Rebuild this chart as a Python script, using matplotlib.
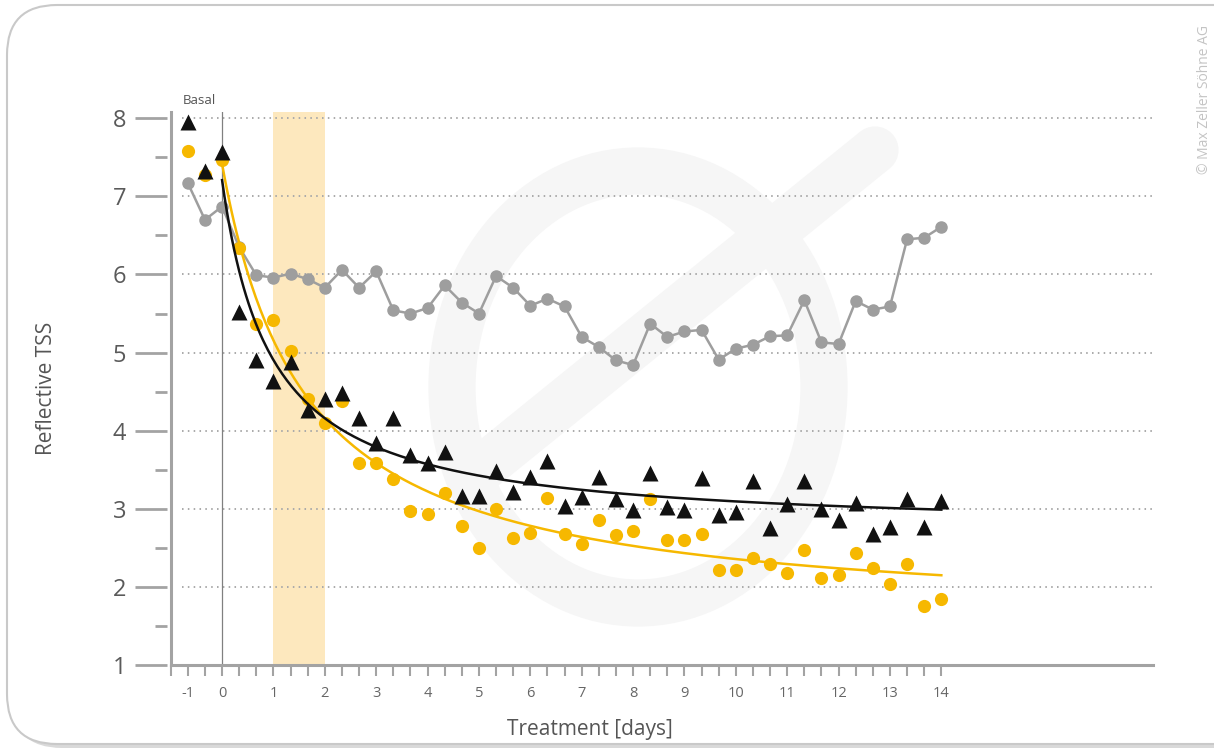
import numpy as np
import matplotlib
matplotlib.use("Agg")
import matplotlib.pyplot as plt
from matplotlib.patches import FancyBboxPatch, Ellipse

plt.rcParams['font.family'] = ['Open Sans', 'DejaVu Sans']

# samples every 8 hours, from -16 h (basal) to day 14
days = np.arange(-2, 43) / 3.0

tss_control = [7.17, 6.70, 6.87, 6.35, 5.99, 5.96, 6.01, 5.94, 5.83, 6.06,
               5.83, 6.04, 5.54, 5.50, 5.57, 5.86, 5.64, 5.50, 5.98, 5.83,
               5.60, 5.69, 5.59, 5.20, 5.07, 4.90, 4.84, 5.37, 5.20, 5.27,
               5.29, 4.91, 5.05, 5.10, 5.21, 5.22, 5.67, 5.13, 5.11, 5.66,
               5.55, 5.59, 6.45, 6.47, 6.61]
tss_black = [7.95, 7.33, 7.57, 5.52, 4.90, 4.63, 4.88, 4.27, 4.41, 4.48,
             4.16, 3.84, 4.16, 3.69, 3.58, 3.73, 3.16, 3.16, 3.49, 3.22,
             3.41, 3.61, 3.03, 3.15, 3.41, 3.13, 2.99, 3.46, 3.02, 2.99,
             3.40, 2.92, 2.96, 3.35, 2.75, 3.06, 3.35, 3.00, 2.86, 3.07,
             2.68, 2.77, 3.13, 2.77, 3.10]
tss_yellow = [7.58, 7.27, 7.46, 6.34, 5.37, 5.42, 5.02, 4.41, 4.10, 4.38,
              3.59, 3.58, 3.38, 2.97, 2.93, 3.20, 2.78, 2.50, 3.00, 2.63,
              2.69, 3.14, 2.68, 2.55, 2.86, 2.66, 2.71, 3.13, 2.60, 2.60,
              2.68, 2.22, 2.21, 2.37, 2.29, 2.18, 2.47, 2.12, 2.15, 2.43,
              2.24, 2.04, 2.29, 1.76, 1.84]

x_labels = ['-1', '0', '1', '2', '3', '4', '5', '6', '7', '8', '9', '10',
            '11', '12', '13', '14']
treatment_window = (1, 2)

YELLOW = '#F6B800'
GREY = '#9e9e9e'
AXIS = '#a3a3a3'


def hyperbolic_trend(x, y):
    # y = c + a / (x + d), least squares with a scan over d
    best = None
    for d in np.linspace(0.2, 6, 300):
        A = np.column_stack([np.ones_like(x), 1.0 / (x + d)])
        coef = np.linalg.lstsq(A, y, rcond=None)[0]
        err = np.sum((A @ coef - y) ** 2)
        if best is None or err < best[0]:
            best = (err, coef[0], coef[1], d)
    _, c, a, d = best
    xs = np.linspace(x.min(), x.max(), 300)
    return xs, c + a / (xs + d)


fig = plt.figure(figsize=(12.14, 7.51), dpi=100)

# background: frame + faint logo
bg = fig.add_axes([0, 0, 1, 1], zorder=-5)
bg.set_xlim(0, 1214)
bg.set_ylim(751, 0)
bg.axis('off')
bg.add_patch(FancyBboxPatch((12, 10), 1260, 738, boxstyle='round,pad=0,rounding_size=50',
                            fc='#d9d9d9', ec='none'))
bg.add_patch(FancyBboxPatch((7, 5), 1260, 739, boxstyle='round,pad=0,rounding_size=50',
                            fc='white', ec='#c9c9c9', lw=1.5))
bg.add_patch(Ellipse((638, 387), 372, 432, fill=False, ec='#f6f6f6', lw=34))
bg.plot([480, 875], [470, 150], color='#f6f6f6', lw=34, solid_capstyle='round')
fig.text(1205 / 1214, 1 - 100 / 751, '\u00a9 Max Zeller S\u00f6hne AG', rotation=90,
         fontsize=10, color='#c4c4c4', ha='center', va='center')

ax = fig.add_axes([170.7 / 1214, 1 - 665 / 751, (1153 - 170.7) / 1214, (665 - 112) / 751])
ax.patch.set_alpha(0)
x = np.array(days)

ax.axvspan(*treatment_window, color='#FDE8BE', lw=0, zorder=0)
ax.hlines(np.arange(2, 9), -0.78, 18.12, colors='#aaaaaa', lw=1.4,
          linestyles=(0, (0.8, 2.2)), zorder=1)
ax.axvline(0, color='#808080', lw=0.9, zorder=1)

ax.plot(x, tss_control, '-o', color=GREY, lw=1.8, ms=8, zorder=3)
ax.plot(x, tss_yellow, 'o', color=YELLOW, ms=9.5, mec='none', zorder=4)
m = x >= 0
xs, ys = hyperbolic_trend(x[m], np.array(tss_yellow)[m])
ax.plot(xs, ys, color=YELLOW, lw=1.8, zorder=4)
ax.plot(x, tss_black, '^', color='#111111', ms=11, mec='none', zorder=5)
xs, ys = hyperbolic_trend(x[m], np.array(tss_black)[m])
ax.plot(xs, ys, color='#111111', lw=1.8, zorder=5)

ax.set_xlim(-1, 18.12)
ax.set_ylim(1, 8.08)

ax.spines['top'].set_visible(False)
ax.spines['right'].set_visible(False)
ax.spines['bottom'].set_color(AXIS)
ax.spines['bottom'].set_linewidth(2.2)
ax.spines['left'].set_position(('outward', 3))
ax.spines['left'].set_color('none')
ax.axvline(-1, color=AXIS, lw=2.2, clip_on=False, zorder=2)

# labelled ticks as major, every 8 h as minor
lbl_pos = [-2 / 3.0] + list(range(0, 15))
ax.set_xticks(lbl_pos)
ax.set_xticklabels(x_labels)
ax.set_xticks(np.arange(-3, 43) / 3.0, minor=True)
ax.tick_params(axis='x', which='both', length=8, width=1.5, color=AXIS, direction='out')
ax.tick_params(axis='x', which='major', pad=7, labelsize=10.5, labelcolor='#666666')

ax.set_yticks(np.arange(1, 9))
ax.set_yticks(np.arange(1.5, 8, 1), minor=True)
ax.tick_params(axis='y', which='major', length=23, width=2, color=AXIS, pad=6,
               labelsize=17, labelcolor='#5a5a5a')
ax.tick_params(axis='y', which='minor', length=8.5, width=2, color=AXIS)

ax.set_xlabel('Treatment [days]', fontsize=15, color='#555555')
ax.xaxis.set_label_coords(0.427, -0.097)
ax.set_ylabel('Reflective TSS', fontsize=15, color='#555555')
ax.yaxis.set_label_coords(-0.116, 0.5)

ax.text(-0.45, 8.14, 'Basal', fontsize=9.5, color='#555555', ha='center', va='bottom')

fig.savefig('out.png', dpi=100)
